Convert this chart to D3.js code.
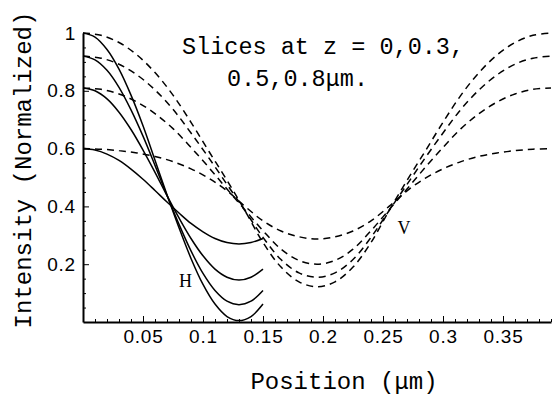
<!DOCTYPE html>
<html lang="en">
    <head>
        <meta charset="utf-8">
        <title>Intensity slices</title>
        <script type="text/javascript" src="https://d3js.org/d3.v7.min.js"></script>
        <style>
            body { margin: 0; background: #fff; }
            .tick text { font-family: "Liberation Sans", Arial, sans-serif; font-size: 19px; letter-spacing: 0.8px; fill: #000; }
            .mono { font-family: "Liberation Mono", "DejaVu Sans Mono", monospace; fill: #000; }
            .serif { font-family: "Liberation Serif", "DejaVu Serif", serif; fill: #000; }
            .hLine { fill: none; stroke: #000; stroke-width: 1.5px; }
            .vLine { fill: none; stroke: #000; stroke-width: 1.5px; stroke-dasharray: 7,5; }
        </style>
    </head>
    <body>
        <svg id="chart" width="553" height="397"></svg>
    <script>
        // H slices (solid), x from 0 to 0.15 um
        let hX = [0, 0.01, 0.02, 0.03, 0.04, 0.05, 0.06, 0.07, 0.08, 0.09, 0.10, 0.11, 0.12, 0.13, 0.14, 0.15];
        let hZ0  = [1.000, 0.986, 0.943, 0.875, 0.785, 0.679, 0.560, 0.440, 0.326, 0.220, 0.130, 0.062, 0.019, 0.005, 0.019, 0.062];
        let hZ03 = [0.920, 0.907, 0.871, 0.812, 0.734, 0.643, 0.542, 0.438, 0.338, 0.246, 0.168, 0.109, 0.072, 0.060, 0.072, 0.109];
        let hZ05 = [0.810, 0.800, 0.772, 0.726, 0.666, 0.595, 0.518, 0.437, 0.360, 0.289, 0.229, 0.183, 0.155, 0.145, 0.155, 0.183];
        let hZ08 = [0.600, 0.595, 0.581, 0.559, 0.529, 0.494, 0.455, 0.415, 0.377, 0.341, 0.312, 0.289, 0.275, 0.270, 0.275, 0.289];

        // V slices (dashed), x from 0 to 0.39 um
        let vX = [0, 0.015, 0.03, 0.045, 0.06, 0.075, 0.09, 0.105, 0.12, 0.135, 0.15, 0.165, 0.18, 0.195,
                  0.21, 0.225, 0.24, 0.255, 0.27, 0.285, 0.30, 0.315, 0.33, 0.345, 0.36, 0.375, 0.39];
        let vZ0  = [1.000, 0.992, 0.967, 0.924, 0.863, 0.785, 0.691, 0.590, 0.490, 0.385, 0.275, 0.190, 0.139, 0.122,
                    0.139, 0.190, 0.275, 0.385, 0.490, 0.590, 0.691, 0.785, 0.863, 0.924, 0.967, 0.992, 1.000];
        let vZ03 = [0.920, 0.913, 0.892, 0.855, 0.803, 0.736, 0.654, 0.567, 0.476, 0.385, 0.293, 0.216, 0.170, 0.155,
                    0.170, 0.216, 0.293, 0.385, 0.476, 0.567, 0.654, 0.736, 0.803, 0.855, 0.892, 0.913, 0.920];
        let vZ05 = [0.810, 0.805, 0.789, 0.761, 0.721, 0.669, 0.604, 0.534, 0.460, 0.388, 0.316, 0.252, 0.213, 0.200,
                    0.213, 0.252, 0.316, 0.388, 0.460, 0.534, 0.604, 0.669, 0.721, 0.761, 0.789, 0.805, 0.810];
        let vZ08 = [0.600, 0.598, 0.593, 0.585, 0.573, 0.555, 0.530, 0.497, 0.454, 0.400, 0.350, 0.315, 0.295, 0.287,
                    0.295, 0.315, 0.350, 0.400, 0.454, 0.497, 0.530, 0.555, 0.573, 0.585, 0.593, 0.598, 0.600];

        let xTicks = [0.05, 0.1, 0.15, 0.2, 0.25, 0.3, 0.35];
        let xTickLabels = ["0.05", "0.1", "0.15", "0.2", "0.25", "0.3", "0.35"];
        let yTicks = [0.2, 0.4, 0.6, 0.8, 1];
        let yTickLabels = ["0.2", "0.4", "0.6", "0.8", "1"];

        let svg = d3.select("#chart");

        let x = d3.scaleLinear().domain([0, 0.39]).range([83, 551]);
        let y = d3.scaleLinear().domain([0, 1]).range([322, 33]);

        // minor ticks
        let xMinor = d3.range(1, 40).map(i => i / 100).filter(v => Math.abs(v * 20 - Math.round(v * 20)) > 1e-6);
        let yMinor = d3.range(1, 20).map(i => i / 20).filter(v => Math.abs(v * 5 - Math.round(v * 5)) > 1e-6);

        svg.append("g")
            .attr("transform", "translate(0,322)")
            .call(d3.axisBottom(x).tickValues(xMinor).tickSize(-3).tickFormat(""))
            .call(g => g.select(".domain").remove());
        svg.append("g")
            .attr("transform", "translate(83,0)")
            .call(d3.axisLeft(y).tickValues(yMinor).tickSize(-3).tickFormat(""))
            .call(g => g.select(".domain").remove());

        svg.append("g")
            .attr("transform", "translate(0,322)")
            .call(d3.axisBottom(x).tickValues(xTicks).tickSize(-6).tickSizeOuter(0).tickPadding(8)
                .tickFormat((d, i) => xTickLabels[i]));
        svg.append("g")
            .attr("transform", "translate(83,0)")
            .call(d3.axisLeft(y).tickValues(yTicks).tickSize(-6).tickSizeOuter(0).tickPadding(7)
                .tickFormat((d, i) => yTickLabels[i]));

        svg.selectAll(".domain").attr("stroke-width", 2);
        svg.selectAll(".tick line").attr("stroke-width", 1);

        let line = d3.line().curve(d3.curveCatmullRom);

        [vZ0, vZ03, vZ05, vZ08].forEach(s => {
            svg.append("path")
                .attr("class", "vLine")
                .attr("d", line(vX.map((v, i) => [x(v), y(s[i])])));
        });
        [hZ0, hZ03, hZ05, hZ08].forEach(s => {
            svg.append("path")
                .attr("class", "hLine")
                .attr("d", line(hX.map((v, i) => [x(v), y(s[i])])));
        });

        // labels
        svg.append("text").attr("class", "serif").attr("x", x(0.08)).attr("y", y(0.12))
            .attr("font-size", 18).text("H");
        svg.append("text").attr("class", "serif").attr("x", x(0.262)).attr("y", y(0.305))
            .attr("font-size", 18).text("V");

        svg.append("text").attr("class", "mono").attr("x", 182).attr("y", 54)
            .attr("font-size", 23.5).text("Slices at z = 0,0.3,");
        svg.append("text").attr("class", "mono").attr("x", 227).attr("y", 86)
            .attr("font-size", 23.5).text("0.5,0.8μm.");

        svg.append("text").attr("class", "mono").attr("x", 344).attr("y", 389)
            .attr("text-anchor", "middle").attr("font-size", 24).text("Position (μm)");
        svg.append("text").attr("class", "mono")
            .attr("transform", "translate(31,170) rotate(-90)")
            .attr("text-anchor", "middle").attr("font-size", 24).text("Intensity (Normalized)");
    </script>
    </body>
</html>
